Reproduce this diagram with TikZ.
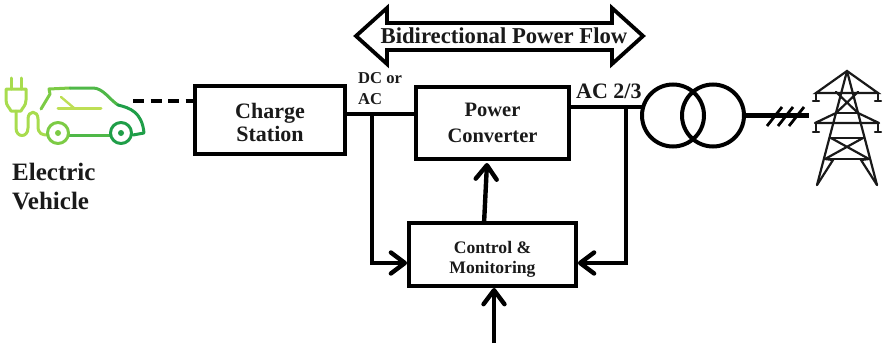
\documentclass[tikz,border=0pt]{standalone}
\usepackage{fontspec}
\setmainfont{Liberation Serif}
\definecolor{txt}{HTML}{1A1A1A}
\definecolor{ga}{HTML}{A8DC4E}
\definecolor{gb}{HTML}{7CCB45}
\definecolor{gc}{HTML}{4FB848}
\definecolor{gd}{HTML}{1F9E48}
\definecolor{lime}{HTML}{BEDF55}
\usetikzlibrary{arrows.meta}
\tikzset{
  blockbox/.style={draw=black,line width=3.8pt,fill=white,align=center,font=\bfseries,text=txt,inner sep=0pt},
  wire/.style={line width=4.4pt,black},
  headwire/.style={wire,-{Straight Barb[length=14pt,width=21pt,line width=4.4pt,round]}},
  lbl/.style={font=\bfseries,text=txt,align=left,inner sep=0pt},
  tw/.style={line width=2.2pt,black!90,line cap=round},
  evline/.style={line width=3pt,line cap=round,line join=round}
}
\begin{document}
\begin{tikzpicture}[x=1pt,y=-1pt]
\useasboundingbox (0,0) rectangle (883,345);
% bidirectional arrow
\draw[line width=3.8pt,fill=white,line join=miter] (356,36) -- (387,8) -- (387,23) -- (612,23) -- (612,8) -- (643,36) -- (612,64) -- (612,50) -- (387,50) -- (387,64) -- cycle;
\node[lbl,font=\bfseries\fontsize{22.7}{26}\selectfont] (flow) at (504,36) {Bidirectional Power Flow};
% blocks
\node[blockbox,minimum width=150pt,minimum height=68pt,font=\bfseries\fontsize{22}{23.5}\selectfont] (cs) at (270,120) {\rule{0pt}{20pt}Charge\\Station};
\node[blockbox,minimum width=153pt,minimum height=72pt,font=\bfseries\fontsize{20.5}{26}\selectfont] (pc) at (492.5,123) {Power\\Converter};
\node[blockbox,minimum width=167pt,minimum height=63pt,font=\bfseries\fontsize{17.6}{20.5}\selectfont] (cm) at (492.5,254.7) {\rule{0pt}{21pt}Control \&\\Monitoring};
% transformer
\node[draw,circle,line width=4pt,minimum size=62pt,inner sep=0pt] (t1) at (673,115.5) {};
\node[draw,circle,line width=4pt,minimum size=62pt,inner sep=0pt] (t2) at (713,115.5) {};
% coordinates
\coordinate (j1) at (372,114);
\coordinate (j2) at (626,107);
\coordinate (cin) at (494,343);
\coordinate (dashL) at (133,101);
\coordinate (gridend) at (809,115.5);
% connectors
\draw[wire] (345,114) -- (415,114);
\draw[wire] (570,107) -- (642,107);
\draw[headwire] (j1) |- (cm.west |- 0,263);
\draw[headwire] (j2) |- (cm.east |- 0,263);
\draw[headwire] (484,224) -- (487,163);
\draw[headwire] (cin) -- (494,288);
\draw[wire,dash pattern=on 11pt off 6.5pt] (dashL) -- (193,101);
\draw[wire] (t2.east) -- (gridend);
\foreach \x in {0,11,22}
  \draw[line width=2.8pt] (767+\x,126) -- (782+\x,107);
% labels
\node[lbl,font=\bfseries\fontsize{16.6}{21}\selectfont,anchor=north west] (dc) at (358,72) {DC or\\AC};
\node[lbl,font=\bfseries\fontsize{22}{24}\selectfont,anchor=west] (ac) at (576,91) {AC 2/3};
\node[lbl,font=\bfseries\fontsize{25}{29}\selectfont,anchor=north west] (ev) at (12,163) {Electric\\Vehicle};
% EV icon
\draw[evline,ga] (11,78) -- (11,89) (21,78) -- (21,89);
\draw[evline,ga] (6,89) -- (26,89) -- (26,100) .. controls (26,106) and (22,108) .. (21,111) -- (11,111) .. controls (10,108) and (6,106) .. (6,100) -- cycle;
\draw[evline,ga] (16,111) -- (16,128) .. controls (16,138) and (28,138) .. (28,128) -- (28,119) .. controls (28,110) and (38,110) .. (38,119) -- (38,126) .. controls (38,134) and (42,135) .. (48,135);
\draw[evline,gb] (41,109) -- (50,94) -- (49,89) -- (70,88);
\draw[evline,gc] (70,88) -- (93,88) .. controls (103,88) and (110,100) .. (118,105);
\draw[evline,gd] (118,105) .. controls (130,108) and (142,112) .. (144,133) -- (133,135);
\draw[evline,gc] (69,135) -- (110,135);
\draw[evline,gb] (58,133) circle (10.5);
\draw[evline,gd] (121,133) circle (10.5);
\fill[gb] (58,133) circle (3);
\fill[gd] (121,133) circle (3);
\draw[evline,lime] (58,108) -- (101,108);
\draw[evline,lime,line width=2.4pt] (61,97) -- (74,108);
% tower
\draw[tw] (847,71) -- (817,185) (847,71) -- (877,185);
\draw[tw] (847,71) -- (816,93) -- (878,93) -- cycle;
\draw[tw] (816,93) -- (816,100) (878,93) -- (878,100) (813,101) -- (819,101) (875,101) -- (881,101);
\draw[tw] (836,92) -- (858,113) (858,92) -- (836,113);
\draw[tw] (837,113) -- (857,113);
\draw[tw] (815,123) -- (836,113) (879,123) -- (858,113) (815,123) -- (879,123);
\draw[tw] (816,123) -- (816,131) (878,123) -- (878,131) (813,132) -- (819,132) (875,132) -- (881,132);
\draw[tw] (831,138) -- (863,138);
\draw[tw] (831,138) -- (869,159) (863,138) -- (825,159);
\draw[tw] (825,159) -- (869,159);
\draw[tw] (825,159) -- (833,160) -- (817,185) (869,159) -- (861,160) -- (877,185);
\end{tikzpicture}
\end{document}
